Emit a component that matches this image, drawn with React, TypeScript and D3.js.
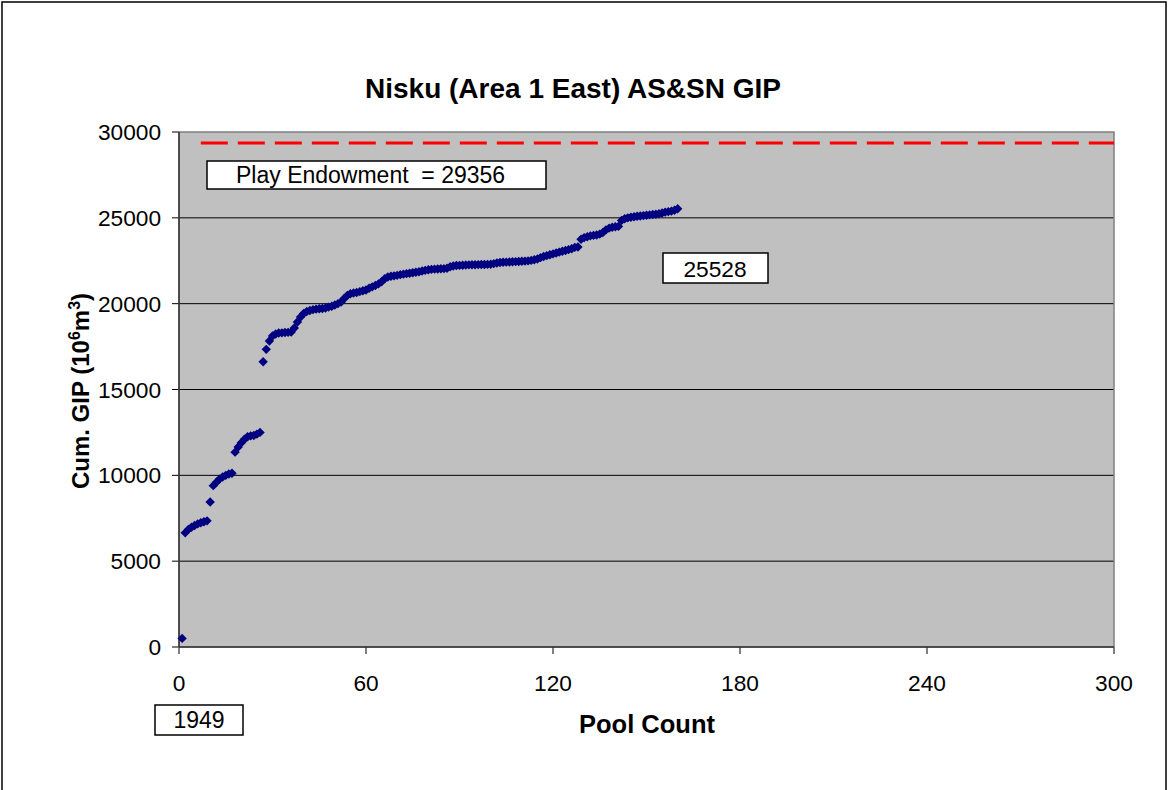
import React from "react";
import * as d3 from "d3";

const poolGIP: number[] = [
  500, 6650, 6850, 6980, 7080, 7170, 7240, 7300, 7350, 8450,
  9400, 9600, 9780, 9900, 10000, 10080, 10120, 11350, 11650, 11900,
  12100, 12250, 12300, 12320, 12400, 12500, 16620, 17340, 17825, 18116,
  18233, 18290, 18300, 18320, 18330, 18350, 18580, 18930, 19220, 19430,
  19540, 19600, 19650, 19680, 19700, 19720, 19750, 19800, 19850, 19920,
  20000, 20100, 20300, 20480, 20580, 20620, 20650, 20700, 20750, 20800,
  20900, 20980, 21060, 21150, 21280, 21450, 21550, 21600, 21620, 21650,
  21690, 21720, 21750, 21770, 21800, 21830, 21860, 21900, 21940, 21980,
  22000, 22010, 22020, 22030, 22040, 22060, 22150, 22190, 22220, 22230,
  22240, 22250, 22260, 22265, 22270, 22275, 22280, 22285, 22290, 22300,
  22330, 22370, 22400, 22410, 22420, 22430, 22440, 22450, 22460, 22470,
  22480, 22495, 22520, 22560, 22600, 22680, 22750, 22800, 22850, 22900,
  22950, 23000, 23050, 23100, 23150, 23200, 23280, 23300, 23750, 23850,
  23900, 23950, 23980, 24000, 24050, 24150, 24300, 24400, 24450, 24480,
  24500, 24850, 24950, 25000, 25030, 25060, 25090, 25110, 25130, 25150,
  25170, 25190, 25210, 25240, 25280, 25330, 25360, 25390, 25440, 25528,
];
const poolCount: number[] = poolGIP.map((_, i) => i + 1);

const endowmentX: number[] = [7, 300];
const endowmentValue = 29356;

const xTicks: number[] = [0, 60, 120, 180, 240, 300];
const yTicks: number[] = [0, 5000, 10000, 15000, 20000, 25000, 30000];

const titleText = "Nisku (Area 1 East) AS&SN GIP";
const xLabel = "Pool Count";
const endowmentLabel = "Play Endowment  = 29356";
const finalLabel = "25528";
const yearLabel = "1949";

export default function App() {
  const W = 1168;
  const H = 790;
  const left = 179;
  const right = 1114;
  const top = 132;
  const bottom = 647;
  const x = d3.scaleLinear().domain([0, 300]).range([left, right]);
  const y = d3.scaleLinear().domain([0, 30000]).range([bottom, top]);
  const font = "Liberation Sans, Arial, sans-serif";
  const s = 4.7;
  const diamond = `M0,${-s}L${s},0L0,${s}L${-s},0Z`;
  const line = d3
    .line<number>()
    .x((d) => x(d))
    .y(() => y(endowmentValue));

  return (
    <svg
      width={W}
      height={H}
      style={{ position: "absolute", left: 0, top: 0 }}
      fontFamily={font}
    >
      <rect x={0} y={0} width={W} height={H} fill="#fff" />
      <rect x={2} y={2} width={1164} height={H + 10} fill="none" stroke="#000" strokeWidth={1.5} />
      <text x={573} y={98} textAnchor="middle" fontSize={28} fontWeight="bold">
        {titleText}
      </text>
      <rect x={left} y={top} width={right - left} height={bottom - top} fill="#C0C0C0" />
      {yTicks.map((t) => (
        <g key={t}>
          {t > 0 && t < 30000 && (
            <line x1={left} x2={right} y1={y(t)} y2={y(t)} stroke="#000" strokeWidth={1} />
          )}
          <line x1={left - 7} x2={left} y1={y(t)} y2={y(t)} stroke="#000" />
          <text x={161} y={y(t) + 8} textAnchor="end" fontSize={22.7}>
            {t}
          </text>
        </g>
      ))}
      {xTicks.map((t) => (
        <g key={t}>
          <line x1={x(t)} x2={x(t)} y1={bottom} y2={bottom + 7} stroke="#000" />
          <text x={x(t)} y={691} textAnchor="middle" fontSize={22.7}>
            {t}
          </text>
        </g>
      ))}
      <rect x={left} y={top} width={right - left} height={bottom - top} fill="none" stroke="#808080" strokeWidth={1.5} />
      <line x1={left} x2={left} y1={top} y2={bottom} stroke="#000" strokeWidth={1} />
      <line x1={left} x2={right} y1={bottom} y2={bottom} stroke="#000" strokeWidth={1} />
      <path d={line(endowmentX) || ""} stroke="#FF0000" strokeWidth={3} strokeDasharray="27 10" fill="none" />
      {poolGIP.map((v, i) => (
        <path key={i} d={diamond} transform={`translate(${x(poolCount[i])},${y(v)})`} fill="#000080" />
      ))}
      <rect x={207} y={161} width={339} height={28} fill="#fff" stroke="#000" strokeWidth={1.5} />
      <text x={236} y={183} fontSize={23} style={{ whiteSpace: "pre" }}>
        {endowmentLabel}
      </text>
      <rect x={663} y={253} width={105} height={30} fill="#fff" stroke="#000" strokeWidth={1.5} />
      <text x={715} y={277} textAnchor="middle" fontSize={22.7}>
        {finalLabel}
      </text>
      <rect x={155} y={705} width={88} height={30} fill="#fff" stroke="#000" strokeWidth={1.5} />
      <text x={199} y={728} textAnchor="middle" fontSize={23}>
        {yearLabel}
      </text>
      <text x={647} y={733} textAnchor="middle" fontSize={25.5} fontWeight="bold">
        {xLabel}
      </text>
      <text transform="translate(89,391) rotate(-90)" textAnchor="middle" fontSize={24} fontWeight="bold">
        Cum. GIP (10<tspan dy={-9} fontSize={16}>6</tspan>
        <tspan dy={9}>m</tspan>
        <tspan dy={-9} fontSize={16}>3</tspan>
        <tspan dy={9}>)</tspan>
      </text>
    </svg>
  );
}
